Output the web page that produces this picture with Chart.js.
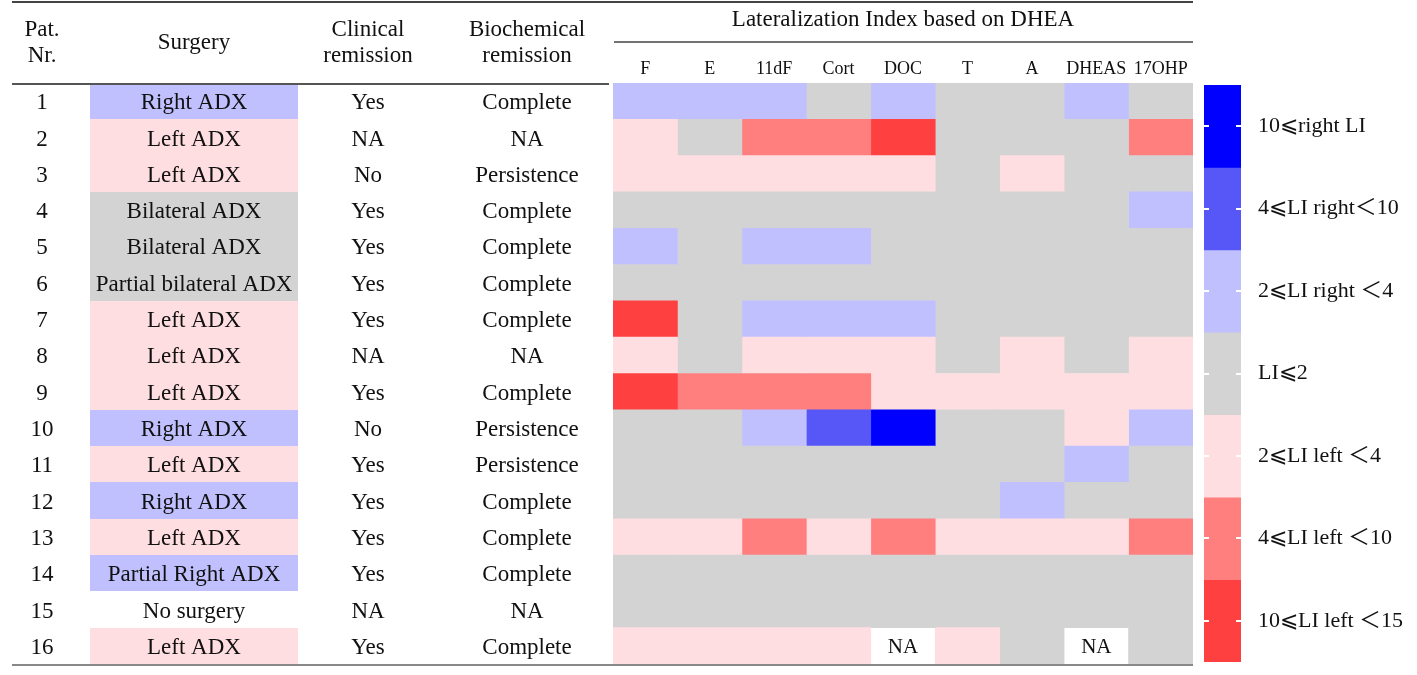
<!DOCTYPE html>
<html>
<head>
<meta charset="utf-8">
<script src="https://cdn.jsdelivr.net/npm/chart.js@4.4.0/dist/chart.umd.min.js"></script>
<style>
  html, body { margin: 0; padding: 0; background: #fff; }
  #wrap { position: relative; width: 1417px; height: 675px; }
  #wrap canvas { position: absolute; left: 0; top: 0; }
</style>
</head>
<body>
<div id="wrap">
  <canvas id="heat" width="1417" height="675"></canvas>
  <canvas id="key" width="1417" height="675"></canvas>
</div>
<script>
// table data
const patients = ['1', '2', '3', '4', '5', '6', '7', '8', '9', '10', '11', '12', '13', '14', '15', '16'];
const surgery = ['Right ADX', 'Left ADX', 'Left ADX', 'Bilateral ADX', 'Bilateral ADX', 'Partial bilateral ADX',
  'Left ADX', 'Left ADX', 'Left ADX', 'Right ADX', 'Left ADX', 'Right ADX', 'Left ADX', 'Partial Right ADX',
  'No surgery', 'Left ADX'];
const clinical = ['Yes', 'NA', 'No', 'Yes', 'Yes', 'Yes', 'Yes', 'NA', 'Yes', 'No', 'Yes', 'Yes', 'Yes', 'Yes', 'NA', 'Yes'];
const biochem = ['Complete', 'NA', 'Persistence', 'Complete', 'Complete', 'Complete', 'Complete', 'NA', 'Complete',
  'Persistence', 'Persistence', 'Complete', 'Complete', 'Complete', 'NA', 'Complete'];

// heatmap: LI class per patient and steroid (3..1 right, 0 = LI<=2, -1..-3 left, null = NA)
const steroids = ['F', 'E', '11dF', 'Cort', 'DOC', 'T', 'A', 'DHEAS', '17OHP'];
const liClass = [
  [1, 1, 1, 0, 1, 0, 0, 1, 0],
  [-1, 0, -2, -2, -3, 0, 0, 0, -2],
  [-1, -1, -1, -1, -1, 0, -1, 0, 0],
  [0, 0, 0, 0, 0, 0, 0, 0, 1],
  [1, 0, 1, 1, 0, 0, 0, 0, 0],
  [0, 0, 0, 0, 0, 0, 0, 0, 0],
  [-3, 0, 1, 1, 1, 0, 0, 0, 0],
  [-1, 0, -1, -1, -1, 0, -1, 0, -1],
  [-3, -2, -2, -2, -1, -1, -1, -1, -1],
  [0, 0, 1, 2, 3, 0, 0, -1, 1],
  [0, 0, 0, 0, 0, 0, 0, 1, 0],
  [0, 0, 0, 0, 0, 0, 1, 0, 0],
  [-1, -1, -2, -1, -2, -1, -1, -1, -2],
  [0, 0, 0, 0, 0, 0, 0, 0, 0],
  [0, 0, 0, 0, 0, 0, 0, 0, 0],
  [-1, -1, -1, -1, null, -1, 0, null, 0]
];

// colour key
const keyClasses = [3, 2, 1, 0, -1, -2, -3];
const keyLabels = ['10⩽right LI', '4⩽LI right＜10', '2⩽LI right ＜4', 'LI⩽2', '2⩽LI left ＜4', '4⩽LI left ＜10', '10⩽LI left ＜15'];

const classColors = { '3': '#0000FF', '2': '#5757F8', '1': '#C0C0FF', '0': '#D3D3D3', '-1': '#FFDEE1', '-2': '#FF7F7F', '-3': '#FF4040' };
const surgeryColors = {
  'Right ADX': classColors['1'],
  'Partial Right ADX': classColors['1'],
  'Left ADX': classColors['-1'],
  'Bilateral ADX': classColors['0'],
  'Partial bilateral ADX': classColors['0']
};

const serif = '"Liberation Serif", "Times New Roman", serif';
const keyFont = '"Liberation Serif", "Noto Sans CJK SC", serif';
const ink = '#111';

function colorOf(v) {
  return v === null ? 'rgba(255,255,255,0)' : classColors[String(v)];
}

// layout of the left table (pixels)
const colCenter = { pat: 42, surgery: 194, clinical: 368, biochem: 527 };
const surgeryBand = [90, 298];
const textDrop = 2; // Liberation Serif sits a little high on "middle"

function text(ctx, str, x, y, size) {
  ctx.font = size + 'px ' + serif;
  ctx.fillStyle = ink;
  ctx.textAlign = 'center';
  ctx.textBaseline = 'middle';
  ctx.fillText(str, x, y + textDrop);
}

function hline(ctx, x1, x2, y, color, w) {
  ctx.beginPath();
  ctx.strokeStyle = color;
  ctx.lineWidth = w;
  ctx.moveTo(x1, y);
  ctx.lineTo(x2, y);
  ctx.stroke();
}

const tablePlugin = {
  id: 'table',
  beforeDatasetsDraw(chart) {
    const ctx = chart.ctx;
    const y = chart.scales.y;
    const h = y.getPixelForValue(1) - y.getPixelForValue(0);
    ctx.save();
    surgery.forEach((s, i) => {
      const c = surgeryColors[s];
      if (!c) return;
      const yc = y.getPixelForValue(i);
      const top = Math.round(yc - h / 2), bot = Math.round(yc + h / 2);
      ctx.fillStyle = c;
      ctx.fillRect(surgeryBand[0], top, surgeryBand[1] - surgeryBand[0], bot - top);
    });
    ctx.restore();
  },
  afterDraw(chart) {
    const ctx = chart.ctx;
    const x = chart.scales.x;
    const y = chart.scales.y;
    const area = chart.chartArea;
    ctx.save();

    // header
    text(ctx, 'Pat.', colCenter.pat, 28, 23);
    text(ctx, 'Nr.', colCenter.pat, 54, 23);
    text(ctx, 'Surgery', colCenter.surgery, 41, 23);
    text(ctx, 'Clinical', colCenter.clinical, 28, 23);
    text(ctx, 'remission', colCenter.clinical, 54, 23);
    text(ctx, 'Biochemical', colCenter.biochem, 28, 23);
    text(ctx, 'remission', colCenter.biochem, 54, 23);
    text(ctx, 'Lateralization Index based on DHEA', (area.left + area.right) / 2, 18, 23);

    // rows
    patients.forEach((p, i) => {
      const yc = y.getPixelForValue(i);
      text(ctx, p, colCenter.pat, yc, 23);
      text(ctx, surgery[i], colCenter.surgery, yc, 23);
      text(ctx, clinical[i], colCenter.clinical, yc, 23);
      text(ctx, biochem[i], colCenter.biochem, yc, 23);
      liClass[i].forEach((v, c) => {
        if (v === null) text(ctx, 'NA', x.getPixelForValue(c + 0.5), yc, 21);
      });
    });

    // rules
    hline(ctx, 12, area.right, 2, '#444', 2);
    hline(ctx, area.left + 1, area.right, 42, '#444', 1.5);
    hline(ctx, 12, area.left - 4, 84, '#555', 2);
    hline(ctx, 12, area.right, area.bottom + 1, '#888', 2);
    ctx.restore();
  }
};

const heatSets = steroids.map((s, c) => ({
  label: s,
  xAxisID: 'x',
  yAxisID: 'y',
  data: patients.map((p) => ({ x: [c, c + 1], y: p })),
  backgroundColor: liClass.map((row) => colorOf(row[c])),
  borderWidth: 0,
  grouped: false,
  barPercentage: 1,
  categoryPercentage: 1
}));

new Chart(document.getElementById('heat'), {
  type: 'bar',
  data: { labels: patients, datasets: heatSets },
  options: {
    indexAxis: 'y',
    responsive: false,
    animation: false,
    layout: { padding: { left: 613, right: 224, top: 42, bottom: 11 } },
    plugins: { legend: { display: false }, tooltip: { enabled: false } },
    scales: {
      x: { type: 'linear', min: 0, max: steroids.length, display: false },
      xTop: {
        axis: 'x',
        type: 'category',
        position: 'top',
        labels: steroids,
        offset: true,
        grid: { display: false, drawTicks: false },
        border: { display: false },
        ticks: { color: ink, font: { family: serif, size: 18 }, padding: 3, maxRotation: 0, autoSkip: false },
        afterFit: (s) => { s.height = 41; }
      },
      y: { type: 'category', labels: patients, offset: true, display: false }
    }
  },
  plugins: [tablePlugin]
});

// colour key bar
const keySets = keyClasses.map((k, i) => ({
  label: keyLabels[i],
  data: [1],
  backgroundColor: classColors[String(k)],
  borderWidth: 0,
  stack: 'key',
  barPercentage: 1,
  categoryPercentage: 1
}));

new Chart(document.getElementById('key'), {
  type: 'bar',
  data: { labels: [''], datasets: keySets },
  options: {
    responsive: false,
    animation: false,
    layout: { padding: { left: 1204, right: 0, top: 85, bottom: 13 } },
    plugins: { legend: { display: false }, tooltip: { enabled: false } },
    scales: {
      x: { stacked: true, display: false },
      y: {
        stacked: true,
        position: 'right',
        min: 0,
        max: keyClasses.length,
        reverse: true,
        afterBuildTicks: (axis) => { axis.ticks = keyLabels.map((l, i) => ({ value: i + 0.5 })); },
        afterFit: (s) => { s.width = 176; s.paddingTop = 0; s.paddingBottom = 0; },
        grid: { display: true, color: '#fff', lineWidth: 2, drawTicks: false, z: 1 },
        border: { display: false, dash: [5, 27] },
        ticks: {
          color: ink,
          font: { family: keyFont, size: 22 },
          padding: 17,
          callback: (v, i) => keyLabels[i]
        }
      }
    }
  }
});
</script>
</body>
</html>
